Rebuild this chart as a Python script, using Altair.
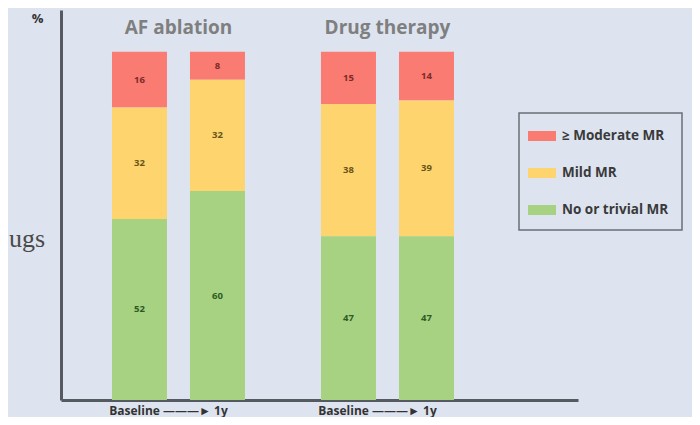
import altair as alt
import pandas as pd

groups = ["AF ablation", "AF ablation", "Drug therapy", "Drug therapy"]
times = ["Baseline", "1y", "Baseline", "1y"]
moderate = [16, 8, 15, 14]
mild = [32, 32, 38, 39]
none_trivial = [52, 60, 47, 47]

categories = ["≥ Moderate MR", "Mild MR", "No or trivial MR"]
bar_colors = ["#f97b72", "#fdd46e", "#a6d282"]
text_colors = ["#7a2c28", "#6b5418", "#2e5a24"]
stack_order = [2, 1, 0]
group_names = ["AF ablation", "Drug therapy"]
time_names = ["Baseline", "1y"]
x_label = "Baseline ———► 1y"

rows = []
for i in range(len(groups)):
    for c, vals in enumerate([moderate, mild, none_trivial]):
        rows.append({
            "group": groups[i], "time": times[i], "category": categories[c],
            "value": vals[i], "order": stack_order[c], "tcolor": text_colors[c],
        })
df = pd.DataFrame(rows)

x_enc = alt.X("group:N", scale=alt.Scale(domain=group_names, paddingInner=0, paddingOuter=0.2368, align=0.131),
              axis=alt.Axis(title=None, labelExpr=f"'{x_label}'", ticks=False, labelAngle=0,
                            labelFont="Open Sans", labelFontWeight="bold", labelFontSize=12,
                            labelColor="#333333", labelPadding=5, labelOffset=-10,
                            domainColor="#555a60", domainWidth=3))
xo_enc = alt.XOffset("time:N", scale=alt.Scale(domain=time_names, paddingInner=0.295, paddingOuter=0.487))

base = alt.Chart(df).transform_stack(
    stack="value", groupby=["group", "time"], as_=["y0", "y1"],
    sort=[alt.SortField("order", "ascending")]
).transform_calculate(mid="(datum.y0 + datum.y1) / 2")

bars = base.mark_bar().encode(
    x=x_enc, xOffset=xo_enc,
    y=alt.Y("y0:Q", scale=alt.Scale(domain=[0, 112], nice=False),
            axis=alt.Axis(title="%", titleAngle=0, titleX=-24, titleY=8, titleBaseline="middle",
                          titleFontSize=13, titleFont="Open Sans", titleFontWeight="bold",
                          titleColor="#333333", labels=False, ticks=False, grid=False,
                          domainColor="#555a60", domainWidth=3)),
    y2="y1:Q",
    color=alt.Color("category:N", scale=alt.Scale(domain=categories, range=bar_colors),
                    legend=alt.Legend(title=None, orient="none", legendX=458, legendY=103,
                                      strokeColor="#6b6f76", padding=13,
                                      labelFont="Open Sans", labelFontSize=13.5, labelFontWeight="bold",
                                      labelColor="#3a3a3a", symbolType="M-1.4,-0.5H1.4V0.5H-1.4Z",
                                      symbolSize=400, symbolStrokeWidth=0, labelOffset=10,
                                      symbolOpacity=1, rowPadding=20)),
)

labels = base.mark_text(font="Open Sans", fontSize=9.5, fontWeight="bold").encode(
    x=x_enc, xOffset=xo_enc,
    y=alt.Y("mid:Q"),
    text=alt.Text("value:Q"),
    fill=alt.Fill("tcolor:N", scale=None, legend=None),
)

title_df = pd.DataFrame({"group": group_names, "yv": [105.1, 105.1]})
titles = alt.Chart(title_df).mark_text(font="Open Sans", fontSize=19, fontWeight="bold",
                                        color="#7f7f7f", baseline="alphabetic").encode(
    x=alt.X("group:N"), y=alt.Y("yv:Q"), text="group:N"
)

side_df = pd.DataFrame({"t": ["ugs"]})
side = alt.Chart(side_df).mark_text(font="Liberation Serif", fontSize=26, color="#4a4a4a",
                                     align="left", baseline="alphabetic").encode(
    x=alt.value(-52), y=alt.value(237), text="t:N"
)

chart = alt.layer(bars, labels, titles, side).properties(
    width=517, height=390, background="#dde4f0",
    padding={"left": 53, "top": 2, "right": 114, "bottom": 17},
    autosize=alt.AutoSizeParams(type="none"),
).configure_view(stroke=None).configure_legend(strokeWidth=1.5)

chart.save("out.html", embed_options={"renderer": "svg", "actions": False})
